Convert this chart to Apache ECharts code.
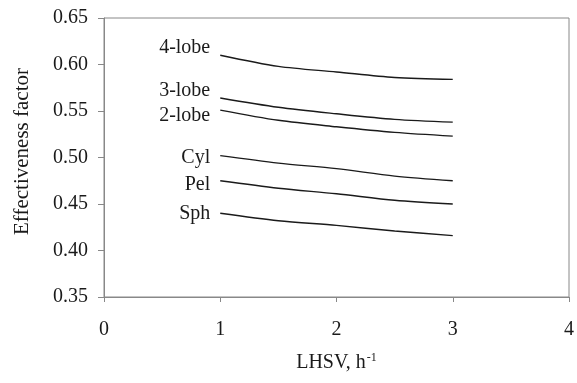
<!DOCTYPE html>
<html>
<head>
<meta charset="utf-8">
<script src="https://cdn.jsdelivr.net/npm/echarts@6/dist/echarts.min.js"></script>
<style>
  html, body { margin: 0; padding: 0; background: #fff; }
  #chart { width: 577px; height: 383px; }
</style>
</head>
<body>
<div id="chart"></div>
<script>
const lhsv = [1, 1.5, 2, 2.5, 3]
const shapeNames = ['4-lobe', '3-lobe', '2-lobe', 'Cyl', 'Pel', 'Sph']
const fourLobe = [0.610, 0.598, 0.592, 0.586, 0.584]
const threeLobe = [0.564, 0.554, 0.547, 0.541, 0.538]
const twoLobe = [0.551, 0.540, 0.533, 0.527, 0.523]
const cyl = [0.502, 0.494, 0.488, 0.480, 0.475]
const pel = [0.475, 0.467, 0.461, 0.454, 0.450]
const sph = [0.440, 0.432, 0.427, 0.421, 0.416]
const xTicks = [0, 1, 2, 3, 4]
const yTicks = [0.35, 0.40, 0.45, 0.50, 0.55, 0.60, 0.65]

const font = 'Liberation Serif'
const ink = '#1a1a1a'
// label vertical offsets relative to the first point
const labelOffsets = [-7, -7, 6, 2, 4, 0]
const allValues = [fourLobe, threeLobe, twoLobe, cyl, pel, sph]

const chart = echarts.init(document.getElementById('chart'))

const series = allValues.map((vals, i) => ({
    type: 'line',
    name: shapeNames[i],
    smooth: 0.3,
    symbol: 'none',
    lineStyle: { color: ink, width: 1.4 },
    data: vals.map((v, j) => [lhsv[j], v]),
    markPoint: {
        symbol: 'circle',
        symbolSize: 0,
        silent: true,
        data: [{
            coord: [lhsv[0], vals[0]],
            label: {
                show: true,
                position: 'left',
                distance: 10,
                offset: [0, labelOffsets[i]],
                formatter: shapeNames[i],
                color: ink,
                fontFamily: font,
                fontSize: 20,
            },
        }],
    },
}))

chart.setOption({
    animation: false,
    grid: {
        left: 104,
        top: 18,
        right: 2,
        bottom: 86,
        show: true,
        borderColor: '#888',
        borderWidth: 1,
    },
    xAxis: {
        type: 'value',
        min: xTicks[0],
        max: xTicks[xTicks.length - 1],
        interval: 1,
        name: '{m|LHSV, h}{s|-1}',
        nameLocation: 'middle',
        nameGap: 55,
        nameTextStyle: {
            rich: {
                m: { fontFamily: font, fontSize: 20, color: ink },
                s: { fontFamily: font, fontSize: 12, color: ink, verticalAlign: 'top', padding: [0, 0, 10, 1] },
            },
        },
        axisLine: { lineStyle: { color: '#888' } },
        axisTick: { show: true, length: 5, lineStyle: { color: '#888' } },
        axisLabel: { margin: 23, fontFamily: font, fontSize: 20, color: ink },
        splitLine: { show: false },
    },
    yAxis: {
        type: 'value',
        min: yTicks[0],
        max: yTicks[yTicks.length - 1],
        interval: 0.05,
        name: 'Effectiveness factor',
        nameLocation: 'middle',
        nameGap: 71,
        nameTextStyle: { fontFamily: font, fontSize: 21, color: ink, padding: [0, 0, 0, 12] },
        axisLine: { show: true, lineStyle: { color: '#888' } },
        axisTick: { show: true, length: 6, lineStyle: { color: '#888' } },
        axisLabel: {
            margin: 16,
            fontFamily: font,
            fontSize: 20,
            color: ink,
            formatter: v => v.toFixed(2),
        },
        splitLine: { show: false },
    },
    series: series,
})
</script>
</body>
</html>
